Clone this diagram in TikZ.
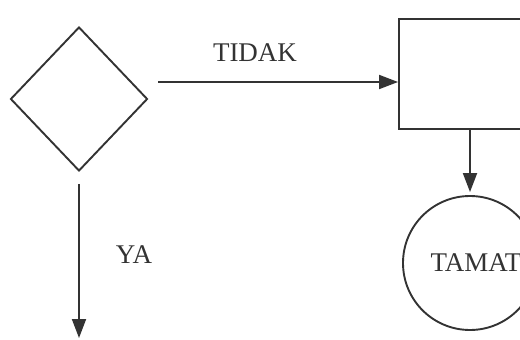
\documentclass[tikz,border=0pt]{standalone}
\usepackage{fontspec}
\setmainfont{Liberation Serif}
\usetikzlibrary{arrows.meta,shapes.geometric}
\definecolor{ink}{HTML}{333333}
\begin{document}
\begin{tikzpicture}[x=1pt,y=-1pt,
  line/.style={draw=ink,line width=1.9pt},
  arr/.style={line,-{Triangle[length=19pt,width=14pt]}},
  lbl/.style={text=ink,font=\fontsize{27}{30}\selectfont,inner sep=0pt}]
\useasboundingbox (0,0) rectangle (520,340);
\clip (0,0) rectangle (520,340);
\node[line,diamond,aspect=1,inner sep=0pt,minimum width=137pt,minimum height=144pt] (d) at (79,99) {};
\node[line,rectangle,inner sep=0pt,minimum width=150pt,minimum height=110pt] (r) at (474,74) {};
\node[line,circle,inner sep=0pt,minimum size=134pt] (c) at (470,263) {};
\node[lbl] (tamat) at ([xshift=6pt]c.center) {TAMAT};
\node[lbl] (tidak) at (255,53) {TIDAK};
\node[lbl] (ya) at (134,255) {YA};
\coordinate (yend) at (77,338);
\draw[arr] ([shift={(10,-17)}]d.east) -- ([yshift=-8pt]r.west);
\draw[arr] (r.south -| c.north) -- ([yshift=3pt]c.north);
\draw[arr] ([yshift=-12pt]d.south) -- (d.south |- yend);
\end{tikzpicture}
\end{document}
